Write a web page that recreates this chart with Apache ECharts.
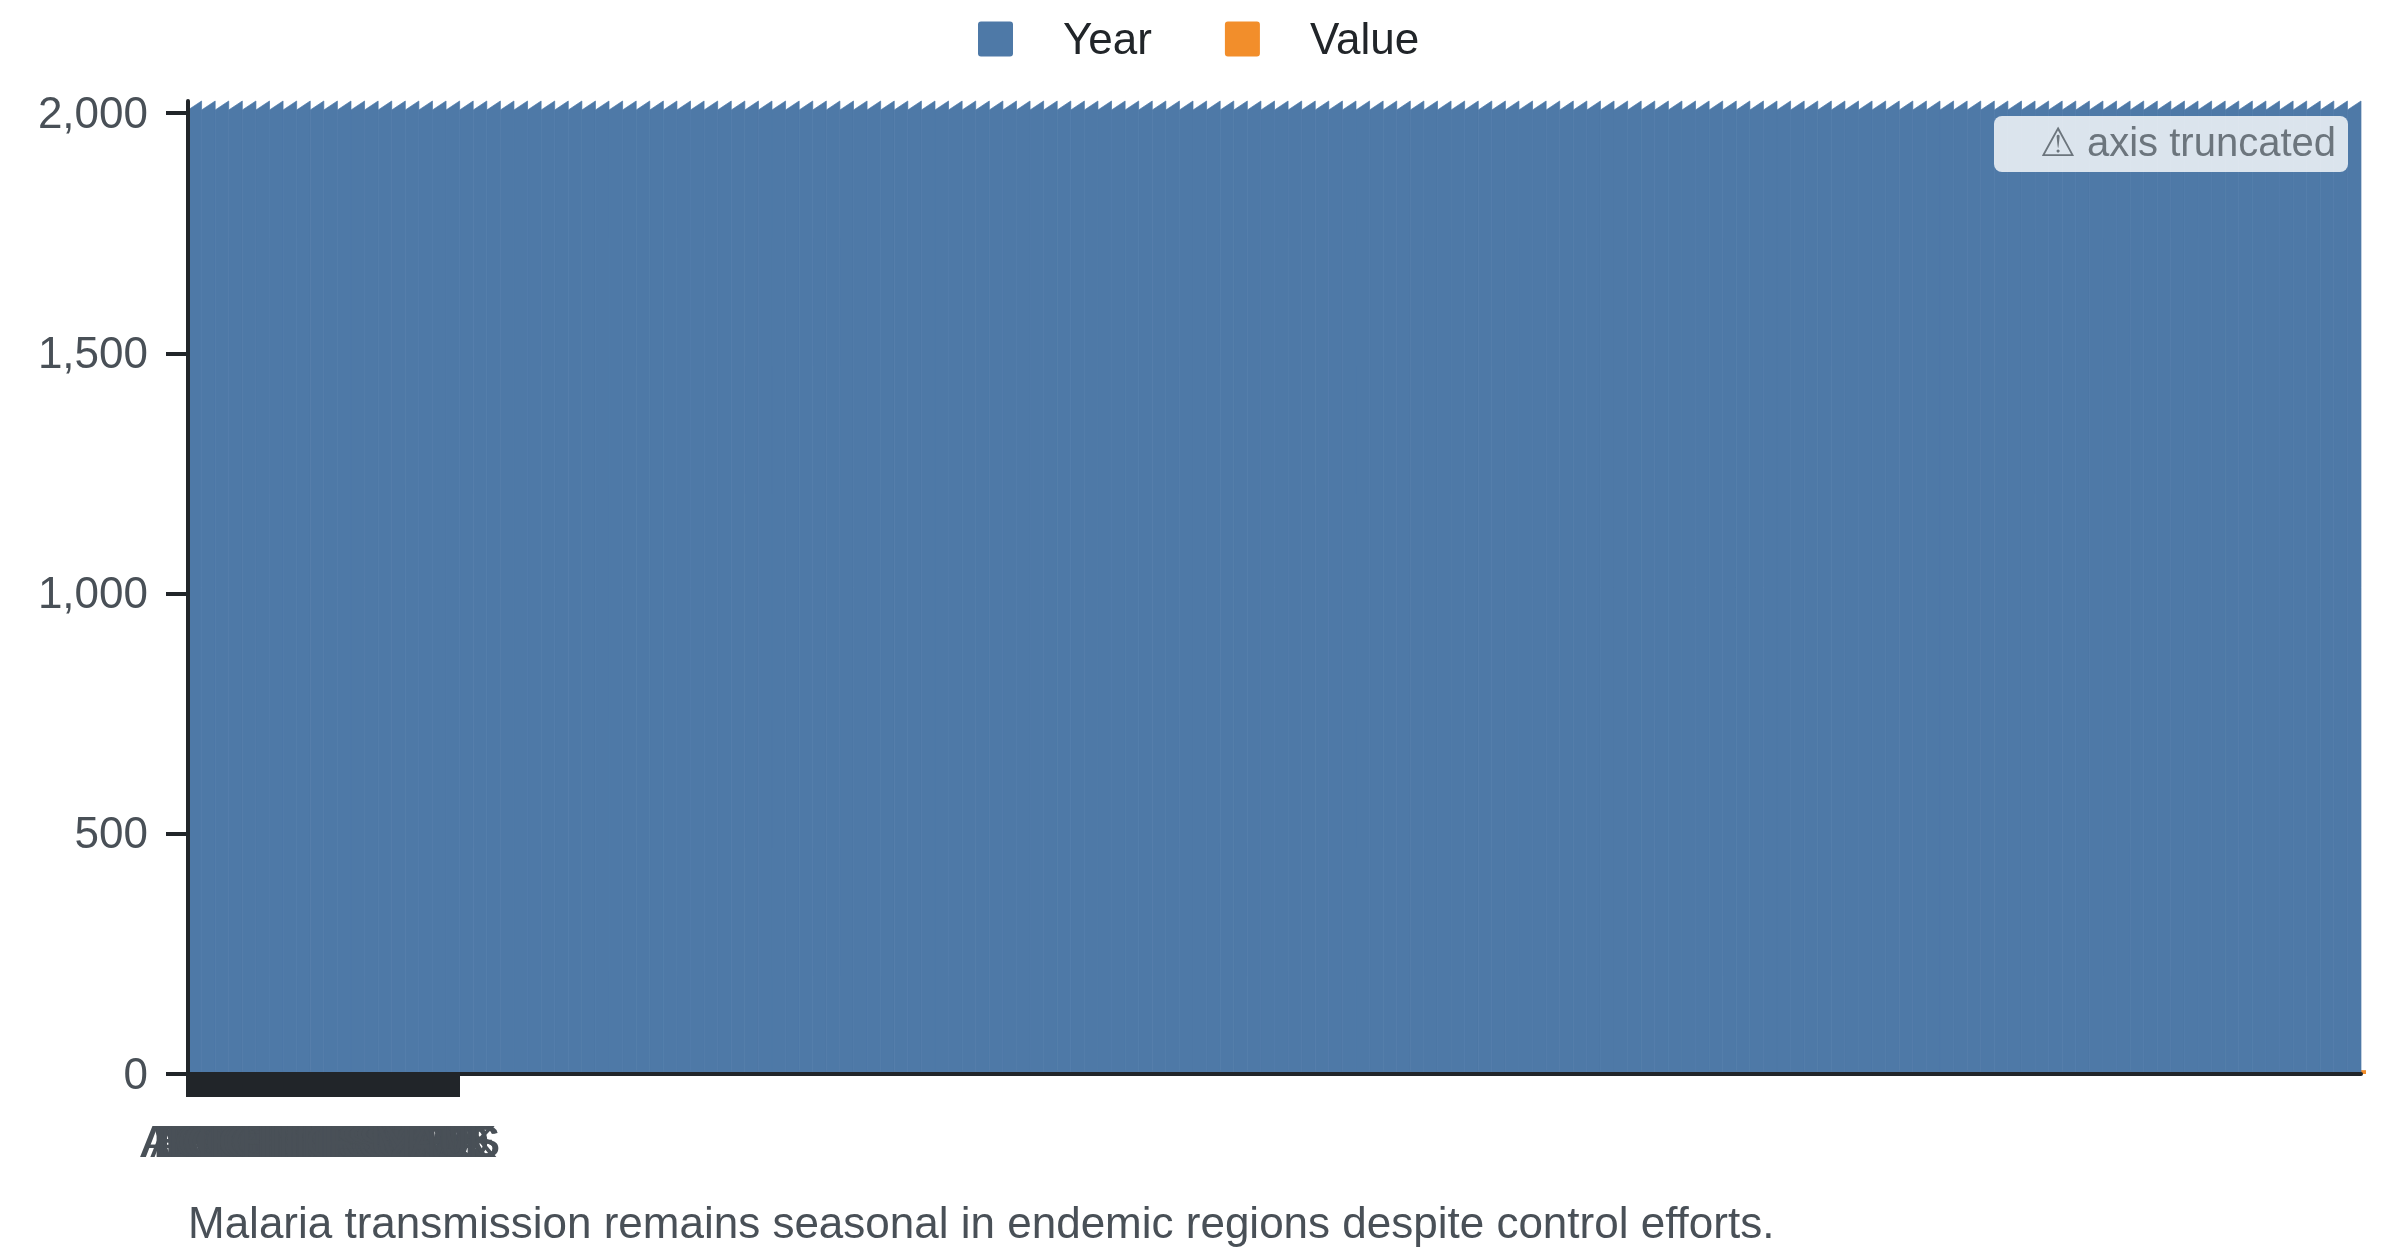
<!DOCTYPE html>
<html>
<head>
<meta charset="utf-8">
<style>html,body{margin:0;padding:0;background:#fff}#c{width:2400px;height:1256px}</style>
<script src="https://cdn.jsdelivr.net/npm/echarts@6/dist/echarts.min.js"></script>
</head>
<body>
<div id="c"></div>
<script>
// Overlapping country-code tick labels (unreadable in the reference; estimated)
const tickLabels = ["AGO","ARG","ARM","AZE","BDI","BEN","BFA","BGD","BLZ","BOL","BRA","BTN","BWA","CAF","CHN","CIV","CMR","COD","COG","COL","COM","CPV","CRI","DJI","DOM","DZA","ECU","EGY","ERI","ETH","GAB","GEO","GHA","GIN","GMB","GNB","GTM","GUF","GUY","HND","HTI","IDN","IND","IRN","KEN","KGZ","KHM","KOR","LAO","LBR","LKA","MAR","MDG","MEX","MLI","MMR","MOZ","MRT","MWI","MYS","NAM","NER","NGA","NIC","NPL","OMN","PAK","PAN","PER","PHL","PNG","PRK","PRY","RWA","SAU","SDN","SEN","SLB","SLE","SLV","SOM","SSD","STP","SUR","SWZ","SYR","TCD","TZA","UGA","UZB","VEN","VNM","VUT","YEM","ZAF","ZMB","THA","TGO","TUR","ZWE","MUS","RUS","AUS","TJK","TLS"];
const yTicks = [0, 500, 1000, 1500, 2000];
const yearValues = [
2025,2025,2025,2025,2025,2025,2025,2025,2025,2025,2025,2025,2025,2025,2025,2025,
2025,2025,2025,2025,2025,2025,2025,2025,2025,2025,2025,2025,2025,2025,2025,2025,
2025,2025,2025,2025,2025,2025,2025,2025,2025,2025,2025,2025,2025,2025,2025,2025,
2025,2025,2025,2025,2025,2025,2025,2025,2025,2025,2025,2025,2025,2025,2025,2025,
2025,2025,2025,2025,2025,2025,2025,2025,2025,2025,2025,2025,2025,2025,2025,2025,
2025,2025,2025,2025,2025,2025,2025,2025,2025,2025,2025,2025,2025,2025,2025,2025,
2025,2025,2025,2025,2025,2025,2025,2025,2025,2025,2025,2025,2025,2025,2025,2025,
2025,2025,2025,2025,2025,2025,2025,2025,2025,2025,2025,2025,2025,2025,2025,2025,
2025,2025,2025,2025,2025,2025,2025,2025,2025,2025,2025,2025,2025,2025,2025,2025,
2025,2025,2025,2025,2025,2025,2025,2025,2025,2025,2025,2025,2025,2025,2025,2025];
const valueValues = [
8,8,8,8,8,8,8,8,8,8,8,8,8,8,8,8,
8,8,8,8,8,8,8,8,8,8,8,8,8,8,8,8,
8,8,8,8,8,8,8,8,8,8,8,8,8,8,8,8,
8,8,8,8,8,8,8,8,8,8,8,8,8,8,8,8,
8,8,8,8,8,8,8,8,8,8,8,8,8,8,8,8,
8,8,8,8,8,8,8,8,8,8,8,8,8,8,8,8,
8,8,8,8,8,8,8,8,8,8,8,8,8,8,8,8,
8,8,8,8,8,8,8,8,8,8,8,8,8,8,8,8,
8,8,8,8,8,8,8,8,8,8,8,8,8,8,8,8,
8,8,8,8,8,8,8,8,8,8,8,8,8,8,8,8];
const caption = "Malaria transmission remains seasonal in endemic regions despite control efforts.";
const badgeText = "\u26A0 axis truncated";

const BLUE = "#4e79a7", ORANGE = "#f28e2b", INK = "#212529", MUTED = "#495057";
const FONT = '"Liberation Sans", Arial, sans-serif';
const FS = 44;
const bands = yearValues.map((_, i) => i);
const tickPositions = tickLabels.map((_, i) => i);

function toothItem(params, api) {
  const i = api.value(0);
  const top = api.coord([i, api.value(1)]);
  const base = api.coord([i, 0]);
  const w = api.size([1, 0])[0];
  const l = top[0] - w / 2, r = top[0] + w / 2;
  return { type: "polygon", shape: { points: [[l, base[1]], [l, top[1] + 9], [r, top[1]], [r, base[1]]] },
    style: { fill: BLUE, stroke: BLUE, lineWidth: 0.7 } };
}
function valueItem(params, api) {
  const i = api.value(0);
  const top = api.coord([i, api.value(1)]);
  const base = api.coord([i, 0]);
  const w = api.size([1, 0])[0];
  return { type: "rect", shape: { x: top[0] + w / 2, y: top[1], width: 5, height: base[1] - top[1] },
    style: { fill: ORANGE } };
}

const chart = echarts.init(document.getElementById("c"), null, { renderer: "canvas", width: 2400, height: 1256 });
chart.setOption({
  animation: false,
  backgroundColor: "#fff",
  textStyle: { fontFamily: FONT },
  legend: {
    left: 978, top: 20, itemWidth: 35, itemHeight: 41, itemGap: 73, padding: 0,
    icon: "path://M3 0H32A3 3 0 0 1 35 3V32A3 3 0 0 1 32 35H3A3 3 0 0 1 0 32V3A3 3 0 0 1 3 0ZM0 41L0.01 41Z",
    data: ["Year", "Value"],
    textStyle: { fontFamily: FONT, fontSize: FS, color: INK, padding: [0, 0, 0, 45] }
  },
  grid: [
    { left: 188, right: 39, top: 101, bottom: 182, containLabel: false },
    { left: 185, right: 39, top: 101, bottom: 182, containLabel: false }
  ],
  xAxis: [
    { type: "category", gridIndex: 0, data: bands, boundaryGap: true, z: 10, position: "bottom",
      axisLine: { show: true, onZero: false, lineStyle: { color: INK, width: 4 } },
      axisTick: { show: false }, axisLabel: { show: false }, splitLine: { show: false } },
    { type: "value", gridIndex: 1, min: 0, max: 822, position: "bottom", z: 10, splitLine: { show: false },
      axisLine: { show: false },
      axisTick: { show: true, length: 23, lineStyle: { color: INK, width: 4 }, customValues: tickPositions },
      axisLabel: { show: true, margin: 49, fontFamily: FONT, fontSize: FS, color: MUTED,
        customValues: tickPositions, formatter: v => tickLabels[v] } }
  ],
  yAxis: [{
    type: "value", gridIndex: 0, min: 0, max: 2025, z: 10, splitLine: { show: false },
    axisLine: { show: true, onZero: false, lineStyle: { color: INK, width: 4 } },
    axisTick: { show: true, length: 22, lineStyle: { color: INK, width: 4 }, customValues: yTicks },
    axisLabel: { margin: 40, verticalAlign: "top", lineHeight: 5, fontFamily: FONT, fontSize: FS, color: MUTED, customValues: yTicks,
      formatter: v => v.toLocaleString("en-US") }
  }, { type: "value", gridIndex: 1, min: 0, max: 2025, show: false }],
  series: [
    { name: "Year", type: "custom", xAxisIndex: 0, yAxisIndex: 0, z: 3, clip: false, itemStyle: { color: BLUE },
      encode: { x: 0, y: 1 }, data: yearValues.map((v, i) => [i, v]), renderItem: toothItem },
    { name: "Value", type: "custom", xAxisIndex: 0, yAxisIndex: 0, z: 2, clip: false, itemStyle: { color: ORANGE },
      encode: { x: 0, y: 1 }, data: valueValues.map((v, i) => [i, v]), renderItem: valueItem }
  ],
  graphic: [
    { type: "rect", z: 20, left: 1994, top: 116, shape: { width: 354, height: 56, r: 8 }, style: { fill: "rgba(255,255,255,0.8)" } },
    { type: "text", z: 21, right: 64, top: 125, style: { text: badgeText, font: '40px ' + FONT, fill: "#6c757d" } },
    { type: "text", z: 21, left: 188, top: 1204, style: { text: caption, font: FS + 'px ' + FONT, fill: MUTED } }
  ]
});
</script>
</body>
</html>
